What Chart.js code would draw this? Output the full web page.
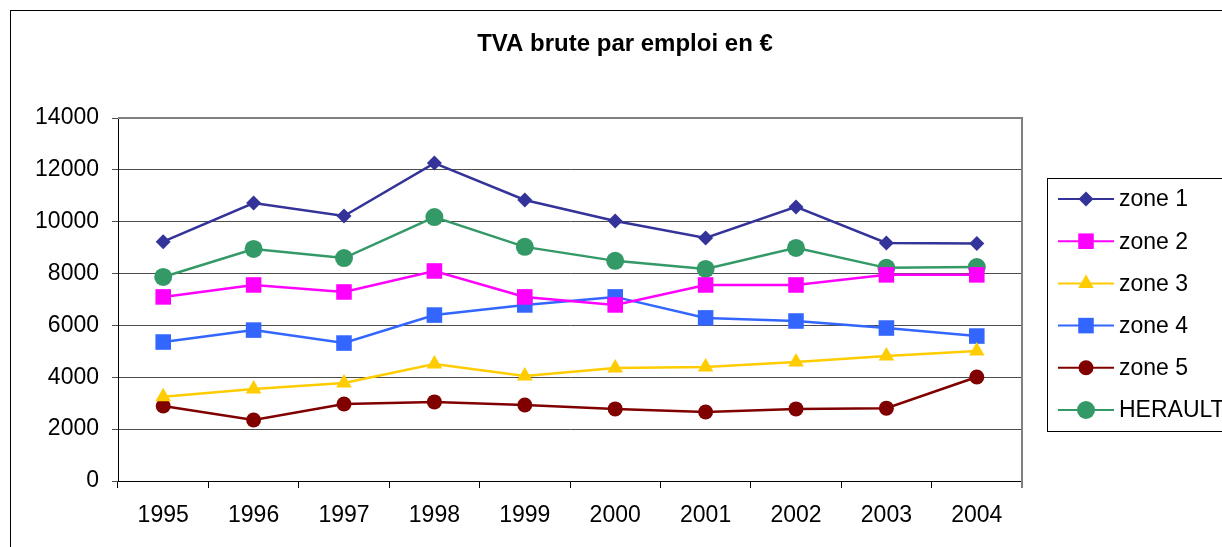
<!DOCTYPE html>
<html lang="fr">
<head>
  <meta charset="UTF-8">
  <title>TVA brute par emploi en €</title>
  <script src="https://cdn.jsdelivr.net/npm/chart.js"></script>
  <style>
    html, body { margin: 0; padding: 0; background: #fff; overflow: hidden; }
    #wrap { position: relative; width: 1222px; height: 547px; }
  </style>
</head>
<body>
  <div id="wrap"><canvas id="tvaChart" width="1222" height="547"></canvas></div>

  <script>
    // Valeurs par année
    const years = ['1995', '1996', '1997', '1998', '1999', '2000', '2001', '2002', '2003', '2004'];
    const zone1 = [9230, 10720, 10220, 12260, 10840, 10030, 9370, 10570, 9180, 9160];
    const zone2 = [7100, 7560, 7290, 8100, 7100, 6790, 7560, 7560, 7950, 7950];
    const zone3 = [3250, 3550, 3780, 4510, 4050, 4360, 4400, 4590, 4820, 5010];
    const zone4 = [5360, 5820, 5320, 6400, 6790, 7100, 6290, 6170, 5900, 5590];
    const zone5 = [2890, 2350, 2970, 3050, 2930, 2780, 2660, 2780, 2810, 4010];
    const herault = [7870, 8950, 8600, 10180, 9030, 8490, 8180, 8990, 8220, 8250];
    const yTicks = [0, 2000, 4000, 6000, 8000, 10000, 12000, 14000];

    const font = 'Arial, "Liberation Sans", sans-serif';

    const series = [
      { label: 'zone 1', data: zone1, color: '#333399', style: 'rectRot', r: 7.5 },
      { label: 'zone 2', data: zone2, color: '#FF00FF', style: 'rect', r: 11 },
      { label: 'zone 3', data: zone3, color: '#FFCC00', style: 'triangle', r: 9 },
      { label: 'zone 4', data: zone4, color: '#3366FF', style: 'rect', r: 11 },
      { label: 'zone 5', data: zone5, color: '#800000', style: 'circle', r: 7.5 },
      { label: 'HERAULT', data: herault, color: '#339966', style: 'circle', r: 9 }
    ];

    // cadre extérieur, titre, bordure de la zone de tracé
    const decor = {
      id: 'decor',
      beforeDraw(chart) {
        const ctx = chart.ctx;
        ctx.save();
        ctx.strokeStyle = '#000';
        ctx.lineWidth = 1;
        ctx.strokeRect(10.5, 10.5, 1400, 700);
        ctx.fillStyle = '#000';
        ctx.font = 'bold 24px ' + font;
        ctx.textAlign = 'center';
        ctx.textBaseline = 'alphabetic';
        ctx.fillText('TVA brute par emploi en €', 625, 51);
        ctx.restore();
      },
      afterDatasetsDraw(chart) {
        const a = chart.chartArea;
        const ctx = chart.ctx;
        ctx.save();
        ctx.strokeStyle = '#808080';
        ctx.lineWidth = 2;
        ctx.beginPath();
        ctx.moveTo(a.left, a.top);
        ctx.lineTo(a.right, a.top);
        ctx.lineTo(a.right, a.bottom + 7);
        ctx.stroke();
        ctx.restore();
      }
    };

    // légende encadrée à droite
    const boxLegend = {
      id: 'boxLegend',
      afterDraw(chart) {
        const ctx = chart.ctx;
        const x0 = 1047, y0 = 178, rowH = 42.2;
        ctx.save();
        ctx.fillStyle = '#fff';
        ctx.fillRect(x0, y0, 200, 253);
        ctx.strokeStyle = '#000';
        ctx.lineWidth = 1;
        ctx.strokeRect(x0 + 0.5, y0 + 0.5, 200, 253);
        chart.data.datasets.forEach((ds, i) => {
          const y = 199 + i * rowH;
          ctx.strokeStyle = ds.borderColor;
          ctx.lineWidth = 2;
          ctx.beginPath();
          ctx.moveTo(1058, y);
          ctx.lineTo(1114, y);
          ctx.stroke();
          ctx.fillStyle = ds.pointBackgroundColor;
          Chart.helpers.drawPoint(ctx, {
            pointStyle: ds.pointStyle,
            radius: ds.pointRadius,
            rotation: 0,
            borderWidth: 0
          }, 1086, y);
          ctx.fillStyle = '#000';
          ctx.font = '23px ' + font;
          ctx.textAlign = 'left';
          ctx.textBaseline = 'middle';
          ctx.fillText(ds.label, 1119, y + 1);
        });
        ctx.restore();
      }
    };

    new Chart(document.getElementById('tvaChart'), {
      type: 'line',
      data: {
        labels: years,
        datasets: series.map(s => ({
          label: s.label,
          data: s.data,
          borderColor: s.color,
          backgroundColor: s.color,
          pointBackgroundColor: s.color,
          pointBorderColor: s.color,
          pointBorderWidth: 0,
          pointStyle: s.style,
          pointRadius: s.r,
          borderWidth: 2.5,
          tension: 0,
          fill: false
        }))
      },
      options: {
        responsive: false,
        animation: false,
        events: [],
        layout: { padding: { top: 118, right: 200, left: 0, bottom: 0 } },
        plugins: {
          legend: { display: false },
          title: { display: false },
          tooltip: { enabled: false }
        },
        scales: {
          x: {
            offset: true,
            grid: {
              offset: true,
              drawOnChartArea: false,
              drawTicks: true,
              tickLength: 7,
              color: '#000'
            },
            border: { color: '#000', width: 1 },
            ticks: {
              color: '#000',
              font: { family: font, size: 23 },
              padding: 14,
              maxRotation: 0
            },
            afterFit(scale) { scale.height = 66; }
          },
          y: {
            min: 0,
            max: 14000,
            afterBuildTicks(scale) { scale.ticks = yTicks.map(v => ({ value: v })); },
            grid: {
              color: '#4d4d4d',
              lineWidth: 1,
              tickLength: 6,
              drawTicks: true
            },
            border: { color: '#000', width: 1 },
            ticks: {
              color: '#000',
              font: { family: font, size: 23 },
              padding: 13,
              callback: v => String(v)
            },
            afterFit(scale) { scale.width = 118; }
          }
        }
      },
      plugins: [decor, boxLegend]
    });
  </script>
</body>
</html>
